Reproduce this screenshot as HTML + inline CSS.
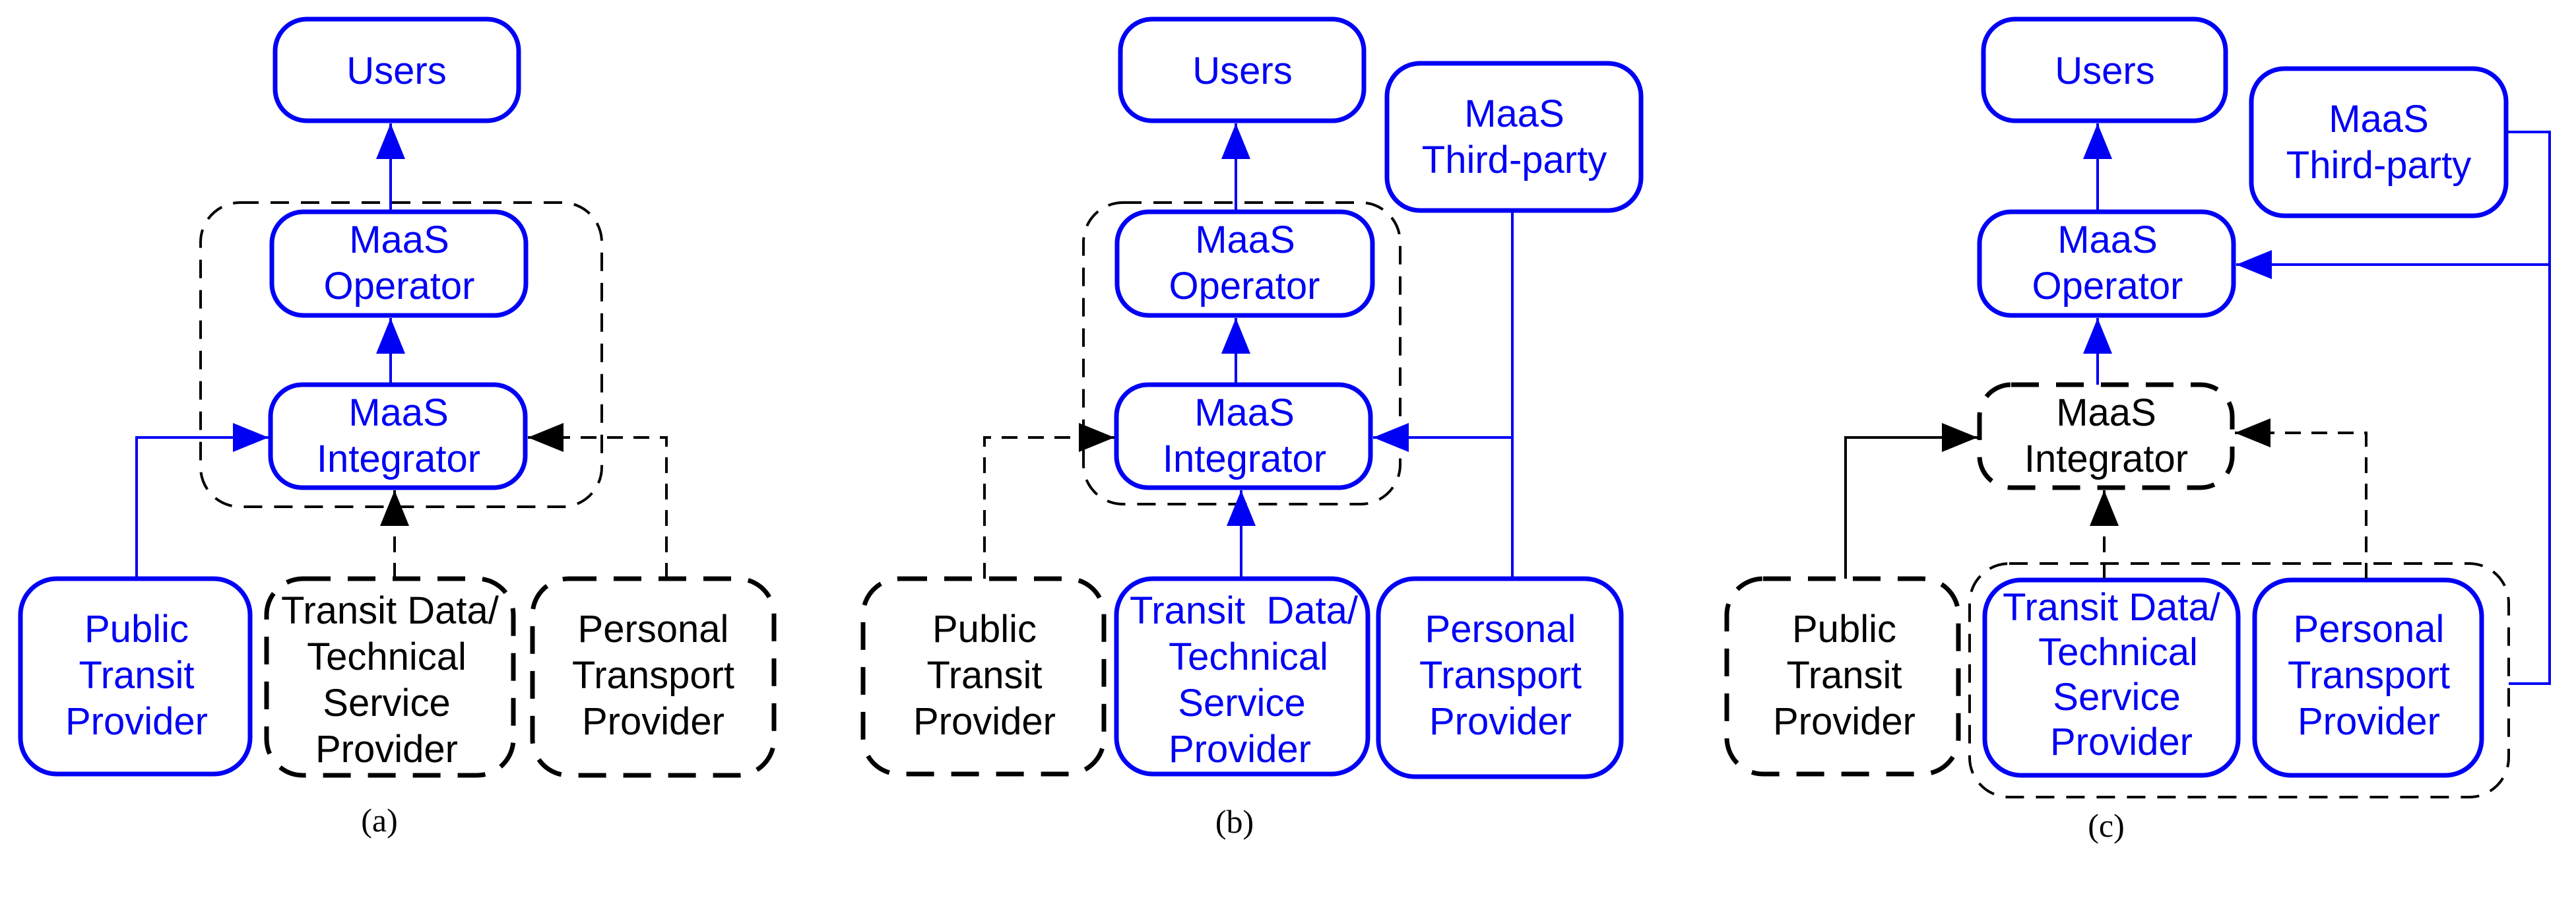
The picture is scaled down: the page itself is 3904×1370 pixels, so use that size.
<!DOCTYPE html>
<html><head><meta charset="utf-8"><style>
html,body{margin:0;padding:0;background:#fff}
svg{display:block}
text{font-family:"Liberation Sans",sans-serif;font-size:58px;text-anchor:middle}
.b{fill:#0000f5}.k{fill:#000}
.lab{font-family:"Liberation Serif",serif;font-size:50px;fill:#000}
</style></head><body>
<svg width="3904" height="1370" viewBox="0 0 3904 1370" xmlns="http://www.w3.org/2000/svg">
<defs>
<marker id="ab" markerWidth="54" markerHeight="44" refX="54" refY="22" orient="auto" markerUnits="userSpaceOnUse"><path d="M0,0 L54,22 L0,44 Z" fill="#0000f5"/></marker>
<marker id="ak" markerWidth="54" markerHeight="44" refX="54" refY="22" orient="auto" markerUnits="userSpaceOnUse"><path d="M0,0 L54,22 L0,44 Z" fill="#000"/></marker>
</defs>
<g fill="none">
<!-- Panel a -->
<rect x="304" y="307" width="608" height="461" rx="60" stroke="#000" stroke-width="4" stroke-dasharray="28 18"/>
<rect x="417" y="29" width="369" height="154" rx="48" stroke="#0000f5" stroke-width="7"/>
<rect x="412" y="321" width="385" height="157" rx="48" stroke="#0000f5" stroke-width="7"/>
<rect x="410" y="583" width="386" height="156" rx="48" stroke="#0000f5" stroke-width="7"/>
<rect x="31" y="877" width="348" height="296" rx="55" stroke="#0000f5" stroke-width="7"/>
<rect x="404" y="877" width="374" height="298" rx="55" stroke="#000" stroke-width="7" stroke-dasharray="42 26"/>
<rect x="807" y="877" width="366" height="298" rx="55" stroke="#000" stroke-width="7" stroke-dasharray="42 26"/>
<path d="M592,321 V187" stroke="#0000f5" stroke-width="4" marker-end="url(#ab)"/>
<path d="M592,583 V482" stroke="#0000f5" stroke-width="4" marker-end="url(#ab)"/>
<path d="M207,877 V663 H407" stroke="#0000f5" stroke-width="4" marker-end="url(#ab)"/>
<path d="M598,877 V743" stroke="#000" stroke-width="4" stroke-dasharray="24 16" marker-end="url(#ak)"/>
<path d="M1010,877 V663 H800" stroke="#000" stroke-width="4" stroke-dasharray="24 16" marker-end="url(#ak)"/>
<!-- Panel b -->
<rect x="1642" y="307" width="480" height="457" rx="60" stroke="#000" stroke-width="4" stroke-dasharray="28 18"/>
<rect x="1698" y="29" width="369" height="154" rx="48" stroke="#0000f5" stroke-width="7"/>
<rect x="2102" y="96" width="385" height="223" rx="50" stroke="#0000f5" stroke-width="7"/>
<rect x="1693" y="321" width="387" height="157" rx="48" stroke="#0000f5" stroke-width="7"/>
<rect x="1692" y="583" width="385" height="156" rx="48" stroke="#0000f5" stroke-width="7"/>
<rect x="1308" y="877" width="365" height="296" rx="55" stroke="#000" stroke-width="7" stroke-dasharray="42 26"/>
<rect x="1692" y="877" width="381" height="296" rx="55" stroke="#0000f5" stroke-width="7"/>
<rect x="2089" y="877" width="368" height="300" rx="55" stroke="#0000f5" stroke-width="7"/>
<path d="M1873,321 V187" stroke="#0000f5" stroke-width="4" marker-end="url(#ab)"/>
<path d="M1873,583 V482" stroke="#0000f5" stroke-width="4" marker-end="url(#ab)"/>
<path d="M1881,877 V743" stroke="#0000f5" stroke-width="4" marker-end="url(#ab)"/>
<path d="M2292,319 V877" stroke="#0000f5" stroke-width="4"/>
<path d="M2292,663 H2081" stroke="#0000f5" stroke-width="4" marker-end="url(#ab)"/>
<path d="M1492,877 V663 H1689" stroke="#000" stroke-width="4" stroke-dasharray="24 16" marker-end="url(#ak)"/>
<!-- Panel c -->
<rect x="2985" y="854" width="817" height="354" rx="60" stroke="#000" stroke-width="4" stroke-dasharray="28 18"/>
<rect x="3006" y="29" width="367" height="154" rx="48" stroke="#0000f5" stroke-width="7"/>
<rect x="3412" y="104" width="386" height="223" rx="50" stroke="#0000f5" stroke-width="7"/>
<rect x="3000" y="321" width="385" height="157" rx="48" stroke="#0000f5" stroke-width="7"/>
<rect x="3000" y="583" width="383" height="156" rx="48" stroke="#000" stroke-width="7" stroke-dasharray="42 26"/>
<rect x="2617" y="877" width="351" height="296" rx="55" stroke="#000" stroke-width="7" stroke-dasharray="42 26"/>
<rect x="3008" y="879" width="384" height="296" rx="55" stroke="#0000f5" stroke-width="7"/>
<rect x="3417" y="879" width="344" height="296" rx="55" stroke="#0000f5" stroke-width="7"/>
<path d="M3179,321 V187" stroke="#0000f5" stroke-width="4" marker-end="url(#ab)"/>
<path d="M3179,583 V482" stroke="#0000f5" stroke-width="4" marker-end="url(#ab)"/>
<path d="M3798,200 H3864 V1036 H3802" stroke="#0000f5" stroke-width="4"/>
<path d="M3864,401 H3389" stroke="#0000f5" stroke-width="4" marker-end="url(#ab)"/>
<path d="M2797,877 V663 H2997" stroke="#000" stroke-width="4" marker-end="url(#ak)"/>
<path d="M3189,877 V743" stroke="#000" stroke-width="4" stroke-dasharray="24 16" marker-end="url(#ak)"/>
<path d="M3586,877 V656 H3387" stroke="#000" stroke-width="4" stroke-dasharray="24 16" marker-end="url(#ak)"/>
</g>
<!-- text a -->
<text class="b" x="601" y="127">Users</text>
<text class="b" x="605" y="383">MaaS</text><text class="b" x="605" y="453">Operator</text>
<text class="b" x="604" y="645">MaaS</text><text class="b" x="604" y="715">Integrator</text>
<text class="b" x="207" y="973">Public</text><text class="b" x="207" y="1043">Transit</text><text class="b" x="207" y="1113">Provider</text>
<text class="k" x="591" y="945">Transit Data/</text><text class="k" x="586" y="1015">Technical</text><text class="k" x="586" y="1085">Service</text><text class="k" x="586" y="1155">Provider</text>
<text class="k" x="990" y="973">Personal</text><text class="k" x="990" y="1043">Transport</text><text class="k" x="990" y="1113">Provider</text>
<text class="lab" x="575" y="1260">(a)</text>
<!-- text b -->
<text class="b" x="1883" y="127">Users</text>
<text class="b" x="2295" y="192">MaaS</text><text class="b" x="2295" y="262">Third-party</text>
<text class="b" x="1887" y="383">MaaS</text><text class="b" x="1886" y="453">Operator</text>
<text class="b" x="1886" y="645">MaaS</text><text class="b" x="1886" y="715">Integrator</text>
<text class="k" x="1492" y="973">Public</text><text class="k" x="1492" y="1043">Transit</text><text class="k" x="1492" y="1113">Provider</text>
<text class="b" x="1885" y="945">Transit&#160; Data/</text><text class="b" x="1892" y="1015">Technical</text><text class="b" x="1882" y="1085">Service</text><text class="b" x="1879" y="1155">Provider</text>
<text class="b" x="2274" y="973">Personal</text><text class="b" x="2274" y="1043">Transport</text><text class="b" x="2274" y="1113">Provider</text>
<text class="lab" x="1871" y="1262">(b)</text>
<!-- text c -->
<text class="b" x="3190" y="127">Users</text>
<text class="b" x="3605" y="200">MaaS</text><text class="b" x="3605" y="270">Third-party</text>
<text class="b" x="3194" y="383">MaaS</text><text class="b" x="3194" y="453">Operator</text>
<text class="k" x="3192" y="645">MaaS</text><text class="k" x="3192" y="715">Integrator</text>
<text class="k" x="2795" y="973">Public</text><text class="k" x="2795" y="1043">Transit</text><text class="k" x="2795" y="1113">Provider</text>
<text class="b" x="3200" y="940">Transit Data/</text><text class="b" x="3210" y="1008">Technical</text><text class="b" x="3208" y="1076">Service</text><text class="b" x="3215" y="1144">Provider</text>
<text class="b" x="3590" y="973">Personal</text><text class="b" x="3590" y="1043">Transport</text><text class="b" x="3590" y="1113">Provider</text>
<text class="lab" x="3192" y="1268">(c)</text>
</svg>
</body></html>
